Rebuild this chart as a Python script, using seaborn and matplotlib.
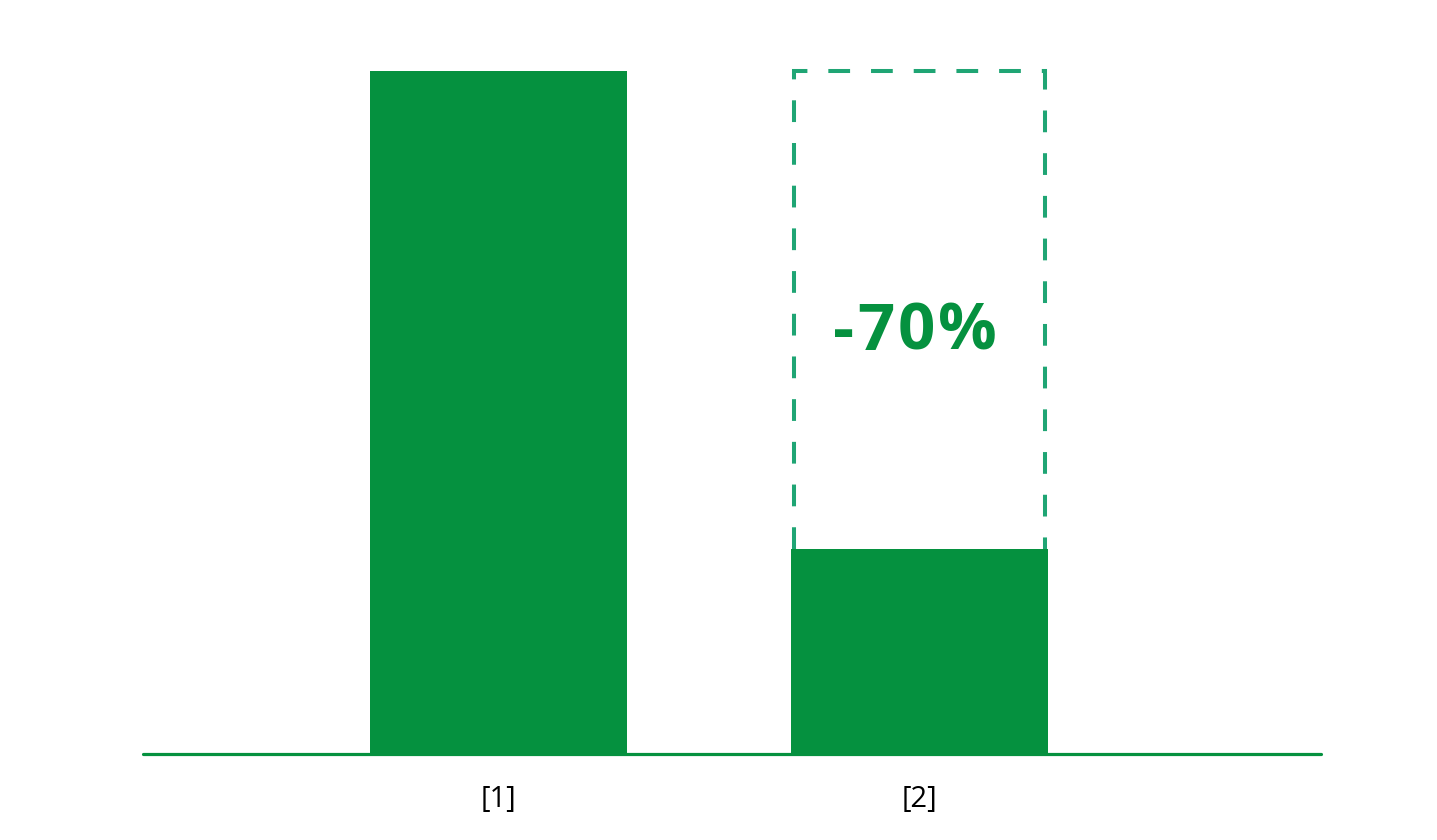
import matplotlib
matplotlib.use("Agg")
import matplotlib.pyplot as plt
from matplotlib.transforms import offset_copy
import seaborn as sns
import pandas as pd

# data
labels = ["[1]", "[2]"]
values = [100, 30]

bar_green = "#05913f"
dash_green = "#1fa574"

sns.set_style("white")
plt.rcParams["font.family"] = ["Open Sans", "DejaVu Sans"]

df = pd.DataFrame({"label": labels, "value": values})

fig = plt.figure(figsize=(14.37, 8.4), dpi=100)
# axes placed so the baseline runs across the page like the original
ax = fig.add_axes([143 / 1437, 86 / 840, 1178 / 1437, 683 / 840])

bar_w = 0.61
sns.barplot(data=df, x="label", y="value", color=bar_green, saturation=1,
            width=bar_w, edgecolor="none", ax=ax, zorder=3)

ax.set_xlim(-0.844, 1.954)
ax.set_ylim(0, max(values))

# dashed outline showing where bar 2 would be at the level of bar 1
half = bar_w / 2 - 0.007
x2 = 1
ax.plot([x2 - half, x2 - half, x2 + half, x2 + half],
        [values[1], values[0], values[0], values[1]],
        color=dash_green, lw=2.9, linestyle=(0, (5.4, 5.2)),
        solid_joinstyle="miter", dash_joinstyle="miter",
        clip_on=False, zorder=2)

# percentage label, drawn char by char to get the wide letter spacing
pct = (values[1] - values[0]) / values[0] * 100
txt = f"-{abs(pct):.0f}%"
renderer = fig.canvas.get_renderer()
track = 3  # px between glyphs
fs = 47
widths = []
for ch in txt:
    t = ax.text(0, 0, ch, fontsize=fs, fontweight="bold", color=bar_green)
    widths.append(t.get_window_extent(renderer).width)
    t.remove()
total = sum(widths) + track * (len(txt) - 1)
xoff = -total / 2
for ch, w in zip(txt, widths):
    tr = offset_copy(ax.transData, fig=fig, x=xoff * 72 / fig.dpi, y=0,
                     units="points")
    ax.text(x2 - 0.01, 59.2, ch, transform=tr, color=bar_green,
            fontsize=fs, fontweight="bold", ha="left", va="baseline",
            zorder=4)
    xoff += w + track

for s in ["top", "left", "right"]:
    ax.spines[s].set_visible(False)
ax.spines["bottom"].set_color(bar_green)
ax.spines["bottom"].set_linewidth(2.3)
ax.spines["bottom"].set_capstyle("round")

ax.set_yticks([])
ax.set_xlabel("")
ax.set_ylabel("")
ax.tick_params(axis="x", length=0, pad=22, labelsize=21, labelcolor="black")

fig.savefig("out.png", dpi=100)
